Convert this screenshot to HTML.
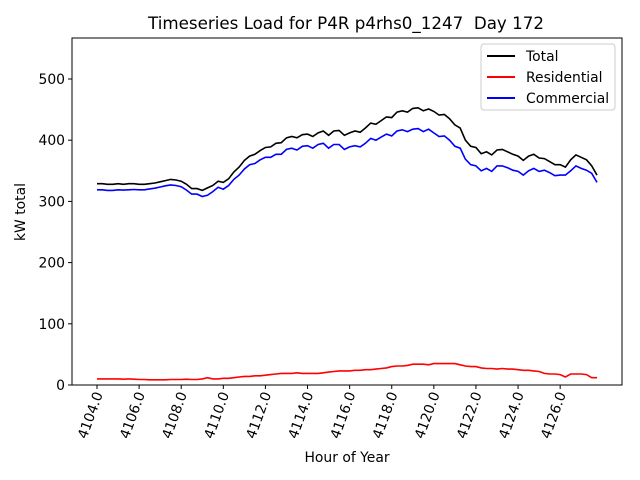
<!DOCTYPE html>
<html><head><meta charset="utf-8"><style>body{margin:0;background:#fff}svg{display:block;font-family:"DejaVu Sans","Liberation Sans",sans-serif}</style></head>
<body>
<svg id="c" width="640" height="480"></svg>
<script>
const totalLoad=[329,329,328,328,329,328,329,329,328,328,329,330,332,334,336,335,333,328,321,321,318,322,326,333,331,337,348,356,367,374,377,383,388,389,395,396,404,406,404,409,410,406,412,415,408,415,416,408,412,415,413,420,428,426,432,438,437,446,448,446,452,453,448,451,447,441,442,435,425,420,400,390,388,378,381,376,384,385,381,377,374,367,374,377,371,370,365,360,360,356,368,376,372,368,358,343];
const residentialLoad=[10,10,10,10,10,9.5,10,9.5,9,9,8.5,8.5,8.5,8.5,9,9,9,9.5,9,9,10,12,10,10,11,11,12,13,14,14,15,15,16,17,18,19,19,19,20,19,19,19,19,20,21,22,23,23,23,24,24,25,25,26,27,28,30,31,31,32,34,34,34,33,35,35,35,35,35,33,31,30,30,28,27,27,26,27,26,26,25,24,24,23,22,19,18,18,17,13,18,18,18,17,12,12];
const commercialLoad=totalLoad.map((t,i)=>t-residentialLoad[i]);
const startHour=4104, stepHours=0.25;
const yTicks=[0,100,200,300,400,500];
const xTicks=[4104,4106,4108,4110,4112,4114,4116,4118,4120,4122,4124,4126];
const svg=document.getElementById('c');const NS='http://www.w3.org/2000/svg';
const L=72,R=622,T=38,B=385,x0=4102.8125,x1=4128.9375,y0=0,y1=567;
const X=v=>L+(v-x0)/(x1-x0)*(R-L), Y=v=>B-(v-y0)/(y1-y0)*(B-T);
function mk(t,a,p){const e=document.createElementNS(NS,t);for(const k in a)e.setAttribute(k,a[k]);(p||svg).appendChild(e);return e;}
const title=mk('text',{x:346,y:29,'text-anchor':'middle','font-size':16.7});title.textContent='Timeseries Load for P4R p4rhs0_1247  Day 172';


title.setAttribute('xml:space','preserve');title.style.whiteSpace='pre';
function line(arr,col,name){const pts=arr.map((v,i)=>X(startHour+i*stepHours).toFixed(1)+','+Y(v).toFixed(1)).join(' ');const p=mk('polyline',{points:pts,fill:'none',stroke:col,'stroke-width':1.6});

}
line(totalLoad,'#000','total-line');line(residentialLoad,'#f00','residential-line');line(commercialLoad,'#00f','commercial-line');
const frame=mk('rect',{x:L,y:T,width:R-L,height:B-T,fill:'none',stroke:'#000','stroke-width':1});


yTicks.forEach(v=>{mk('line',{x1:L-4,x2:L,y1:Y(v),y2:Y(v),stroke:'#000'});const t=mk('text',{x:L-7,y:Y(v)+5,'text-anchor':'end','font-size':13.9});t.textContent=v;

});
xTicks.forEach(v=>{const x=X(v);mk('line',{x1:x,x2:x,y1:B,y2:B+4,stroke:'#000'});const t=mk('text',{x:0,y:0,'text-anchor':'end','font-size':13.9,transform:`translate(${x+6},${B+9}) rotate(-70)`});t.textContent=v.toFixed(1);

});
const xl=mk('text',{x:347,y:462,'text-anchor':'middle','font-size':13.9});xl.textContent='Hour of Year';


const yl=mk('text',{x:0,y:0,'text-anchor':'middle','font-size':13.9,transform:'translate(25,212) rotate(-90)'});yl.textContent='kW total';


const lg=mk('g',{});


mk('rect',{x:481,y:44,width:134,height:66,rx:3,fill:'#fff','fill-opacity':0.8,stroke:'#ccc'},lg);
[['Total','#000'],['Residential','#f00'],['Commercial','#00f']].forEach((e,i)=>{const y=56+i*21;mk('line',{x1:487,x2:515,y1:y,y2:y,stroke:e[1],'stroke-width':2},lg);const t=mk('text',{x:526,y:y+5,'font-size':13.9},lg);t.textContent=e[0];

});
</script>
</body></html>
